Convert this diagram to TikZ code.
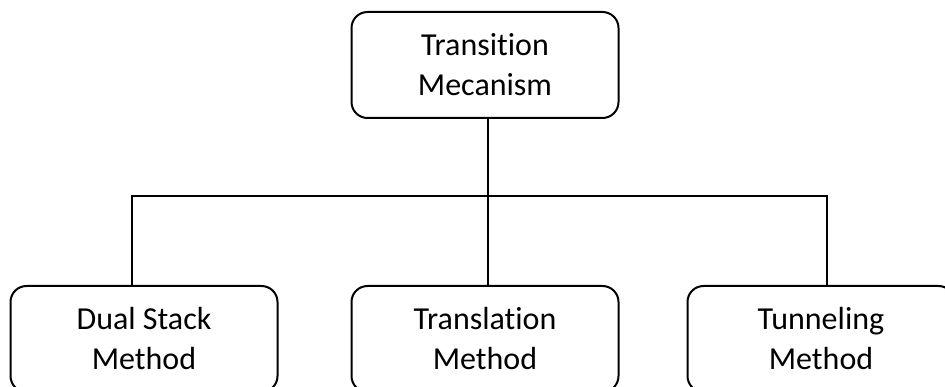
\documentclass[tikz,border=0pt]{standalone}
\usepackage{fontspec}
\setmainfont[Ligatures=NoCommon]{Carlito}
\usetikzlibrary{positioning}

\begin{document}
\begin{tikzpicture}[
   x=1pt,y=-1pt,
   font=\fontsize{32}{40}\selectfont,
   box/.style={draw,rounded corners=16pt,line width=2pt,align=center,
     minimum width=267pt,minimum height=106pt,inner sep=0pt},
   link/.style={line width=2pt}]
 \useasboundingbox (0,0) rectangle (945,387);
 \node[box] (root) at (485,65) {Transition\\Mecanism};
 \node[box] (dual) at (144,339) {Dual Stack\\Method};
 \node[box] (trans) at (485,339) {Translation\\Method};
 \node[box] (tunnel) at (821,339) {Tunneling\\Method};
 \coordinate (bar) at (488,196);
 \coordinate (barl) at (132,196);
 \coordinate (barr) at (827,196);
 \draw[link] (root.south -| bar) -- (trans.north -| bar);
 \draw[link] (dual.north -| barl) -- (barl) -- (barr) -- (tunnel.north -| barr);
\end{tikzpicture}
\end{document}
